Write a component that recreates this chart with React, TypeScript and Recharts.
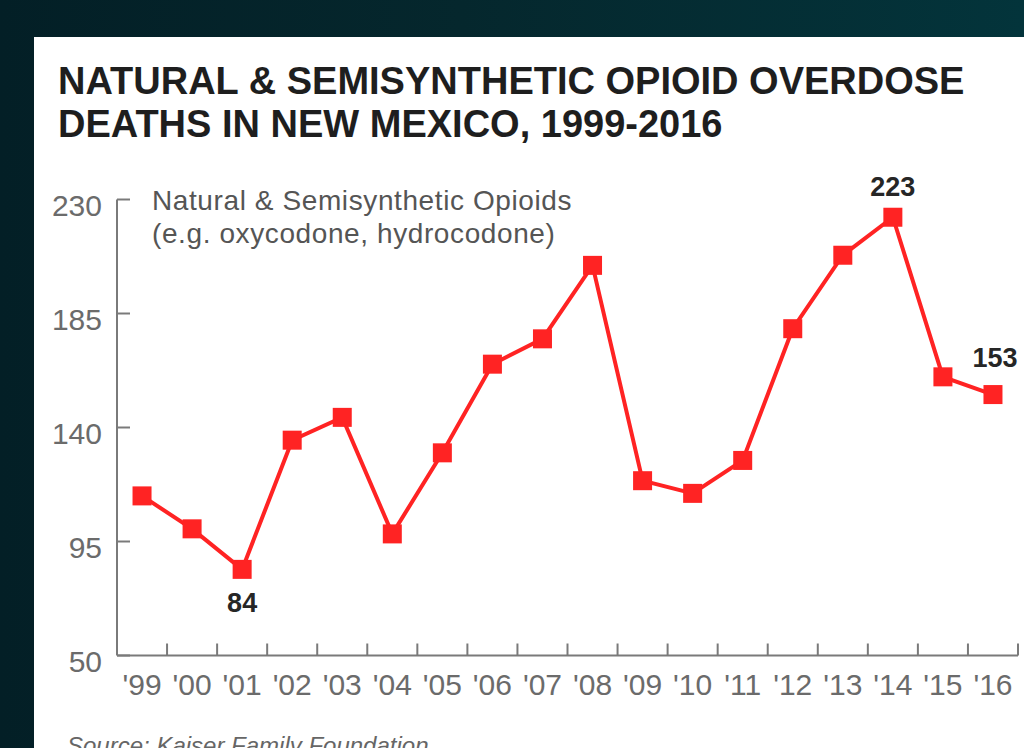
import React from "react";
import { LabelList, Line, LineChart, XAxis, YAxis } from "recharts";

const years = ["'99", "'00", "'01", "'02", "'03", "'04", "'05", "'06", "'07", "'08", "'09", "'10", "'11", "'12", "'13", "'14", "'15", "'16"];
const deaths = [113, 100, 84, 135, 144, 98, 130, 165, 175, 204, 119, 114, 127, 179, 208, 223, 160, 153];
const yTicks = [50, 95, 140, 185, 230];
// years whose value gets printed next to the marker
const calloutYears = ["'01", "'14", "'16"];

const data = years.map((year, i) => ({ year, deaths: deaths[i] }));

const CARD_W = 990;
const CARD_H = 711;
const AXIS_W = 83;
const PLOT_W = 901;
const BAND = PLOT_W / years.length;
const RED = "#ff2323";
const AXIS_GRAY = "#7a7a7a";
const FONT = "'Liberation Sans', Arial, Helvetica, sans-serif";

function YTick(props: any) {
  const { x, y, payload } = props;
  return (
    <g>
      <line x1={x} x2={x + 13} y1={y} y2={y} stroke={AXIS_GRAY} strokeWidth={2} />
      <text x={x - 15} y={y + 6} textAnchor="end" dominantBaseline="central" fontSize={30} fill="#6b6b6b" fontFamily={FONT}>
        {payload.value}
      </text>
    </g>
  );
}

function XTick(props: any) {
  const { x, y, payload } = props;
  const edge = x + BAND / 2;
  return (
    <g>
      <line x1={edge} x2={edge} y1={y} y2={y - 12} stroke={AXIS_GRAY} strokeWidth={2} />
      <text x={x} y={y + 29} textAnchor="middle" dominantBaseline="central" fontSize={30} fill="#6b6b6b" fontFamily={FONT}>
        {payload.value}
      </text>
    </g>
  );
}

function SquareDot(props: any) {
  const { cx, cy, index } = props;
  if (cx == null || cy == null) return <g key={`dot-${index}`} />;
  return <rect key={`dot-${index}`} x={cx - 9.5} y={cy - 9.5} width={19} height={19} fill={RED} />;
}

function Callout(props: any) {
  const { x, y, value, index } = props;
  const year = years[index];
  if (!calloutYears.includes(year)) return null;
  let dx = 0;
  let dy = -21;
  if (year === "'01") dy = 43;
  if (year === "'16") {
    dx = 2;
    dy = -28;
  }
  return (
    <text x={x + dx} y={y + dy} textAnchor="middle" fontSize={27} fontWeight={700} fill="#262626" fontFamily={FONT}>
      {value}
    </text>
  );
}

export default function App() {
  return (
    <div
      style={{
        position: "fixed",
        left: 0,
        top: 0,
        width: 1024,
        height: 748,
        overflow: "hidden",
        background: "linear-gradient(90deg, #031f26 0%, #05272d 45%, #03343b 100%)",
        fontFamily: FONT,
      }}
    >
      <div style={{ position: "absolute", left: 34, top: 37, width: CARD_W, height: CARD_H, background: "#fff" }}>
        <div
          style={{
            position: "absolute",
            left: 24,
            top: 23,
            fontSize: 38,
            lineHeight: "43px",
            fontWeight: 700,
            color: "#1e1e1e",
            whiteSpace: "nowrap",
          }}
        >
          NATURAL &amp; SEMISYNTHETIC OPIOID OVERDOSE
          <br />
          DEATHS IN NEW MEXICO, 1999-2016
        </div>

        <div style={{ position: "absolute", left: 0, top: 0 }}>
          <LineChart
            width={CARD_W}
            height={CARD_H}
            data={data}
            margin={{ top: 162.5, right: CARD_W - AXIS_W - PLOT_W, bottom: 32.5, left: 0 }}
          >
            <XAxis
              dataKey="year"
              interval={0}
              height={60}
              padding={{ left: BAND / 2, right: BAND / 2 }}
              tickSize={0}
              tickMargin={0}
              tickLine={false}
              axisLine={{ stroke: AXIS_GRAY, strokeWidth: 2 }}
              tick={<XTick />}
            />
            <YAxis
              type="number"
              domain={[50, 230]}
              ticks={yTicks}
              width={AXIS_W}
              tickSize={0}
              tickMargin={0}
              tickLine={false}
              axisLine={{ stroke: AXIS_GRAY, strokeWidth: 2 }}
              tick={<YTick />}
            />
            <Line
              type="linear"
              dataKey="deaths"
              stroke={RED}
              strokeWidth={4}
              dot={<SquareDot />}
              activeDot={false}
              isAnimationActive={false}
            >
              <LabelList dataKey="deaths" content={<Callout />} />
            </Line>
          </LineChart>
        </div>

        <div
          style={{
            position: "absolute",
            left: 118,
            top: 147,
            fontSize: 28,
            lineHeight: "33px",
            letterSpacing: 0.6,
            color: "#555",
            whiteSpace: "nowrap",
          }}
        >
          Natural &amp; Semisynthetic Opioids
          <br />
          (e.g. oxycodone, hydrocodone)
        </div>

        <div
          style={{
            position: "absolute",
            left: 33,
            top: 695,
            fontSize: 24,
            lineHeight: "28px",
            fontStyle: "italic",
            color: "#666",
            whiteSpace: "nowrap",
          }}
        >
          Source: Kaiser Family Foundation
        </div>
      </div>
    </div>
  );
}
